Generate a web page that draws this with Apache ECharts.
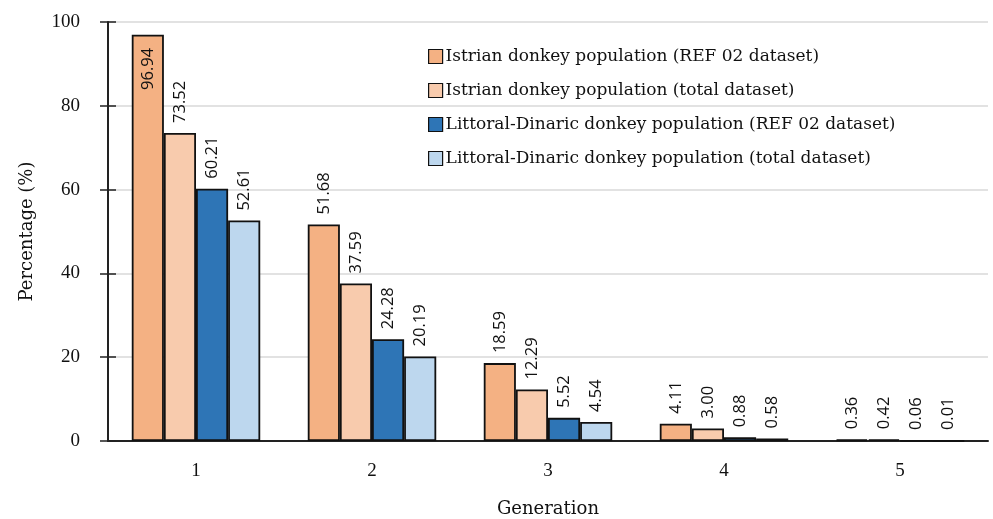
<!DOCTYPE html>
<html>
<head>
<meta charset="utf-8">
<script src="https://cdn.jsdelivr.net/npm/echarts@6/dist/echarts.min.js"></script>
<style>
html,body{margin:0;padding:0;background:#fff;}
#chart{width:993px;height:519px;}
</style>
</head>
<body>
<div id="chart"></div>
<script>
// Proportion of ancestry by generation
const generations = ['1', '2', '3', '4', '5'];
const seriesNames = [
  'Istrian donkey population (REF 02 dataset)',
  'Istrian donkey population (total dataset)',
  'Littoral-Dinaric donkey population (REF 02 dataset)',
  'Littoral-Dinaric donkey population (total dataset)'
];
const istrianRef02 = [96.94, 51.68, 18.59, 4.11, 0.36];
const istrianTotal = [73.52, 37.59, 12.29, 3.00, 0.42];
const littoralRef02 = [60.21, 24.28, 5.52, 0.88, 0.06];
const littoralTotal = [52.61, 20.19, 4.54, 0.58, 0.01];
const yTicks = [0, 20, 40, 60, 80, 100];

const colors = ['#F4B183', '#F8CBAD', '#2E75B6', '#BDD7EE'];
const values = [istrianRef02, istrianTotal, littoralRef02, littoralTotal];
const serif = '"DejaVu Serif", "Liberation Serif", serif';
const tickSerif = '"Liberation Serif", serif';
const sans = '"Open Sans", "Noto Sans", sans-serif';

const series = values.map((arr, si) => ({
  name: seriesNames[si],
  type: 'bar',
  barGap: '0%',
  barCategoryGap: '27%',
  itemStyle: { color: colors[si], borderColor: '#111', borderWidth: 1.8 },
  data: arr.map(v => {
    const inside = v > 90;
    return {
      value: v,
      label: {
        show: true,
        rotate: 90,
        position: inside ? 'insideTop' : 'top',
        align: inside ? 'right' : 'left',
        verticalAlign: 'middle',
        distance: inside ? 13 : 10,
        formatter: () => v.toFixed(2),
        fontFamily: sans,
        fontSize: 16.5,
        color: '#111'
      }
    };
  })
}));

const chart = echarts.init(document.getElementById('chart'));
chart.setOption({
  animation: false,
  color: colors,
  grid: { left: 108, right: 5, top: 22, bottom: 78, containLabel: false, outerBoundsMode: 'none' },
  legend: {
    orient: 'vertical',
    left: 423,
    top: 43,
    itemWidth: 14,
    itemHeight: 14,
    itemGap: 17,
    icon: 'rect',
    itemStyle: { borderColor: '#111', borderWidth: 1.2 },
    textStyle: { fontFamily: serif, fontSize: 17, color: '#111', padding: [0, 0, 0, -2] },
    data: seriesNames
  },
  xAxis: {
    type: 'category',
    data: generations,
    name: 'Generation',
    nameLocation: 'middle',
    nameGap: 59,
    nameTextStyle: { fontFamily: serif, fontSize: 18, color: '#111' },
    axisLine: { lineStyle: { color: '#222', width: 2 } },
    axisTick: { show: false },
    axisLabel: { fontFamily: tickSerif, fontSize: 19, color: '#111', margin: 21 }
  },
  yAxis: [{
    type: 'value',
    min: yTicks[0],
    max: yTicks[yTicks.length - 1],
    interval: 20,
    name: 'Percentage (%)',
    nameLocation: 'middle',
    nameGap: 72,
    nameTextStyle: { fontFamily: serif, fontSize: 18, color: '#111' },
    axisLine: { show: true, lineStyle: { color: '#222', width: 2 } },
    axisTick: { show: true, length: 8, lineStyle: { color: '#222', width: 1.5 } },
    axisLabel: { fontFamily: tickSerif, fontSize: 19, color: '#111', margin: 28 },
    splitLine: { lineStyle: { color: '#d9d9d9', width: 1.5 } }
  }, {
    // inner half of the crossing tick marks
    type: 'value',
    position: 'left',
    min: yTicks[0],
    max: yTicks[yTicks.length - 1],
    interval: 20,
    axisLine: { show: false },
    axisTick: { show: true, inside: true, length: 8, lineStyle: { color: '#222', width: 1.5 } },
    axisLabel: { show: false },
    splitLine: { show: false }
  }],
  series: series
});
</script>
</body>
</html>
